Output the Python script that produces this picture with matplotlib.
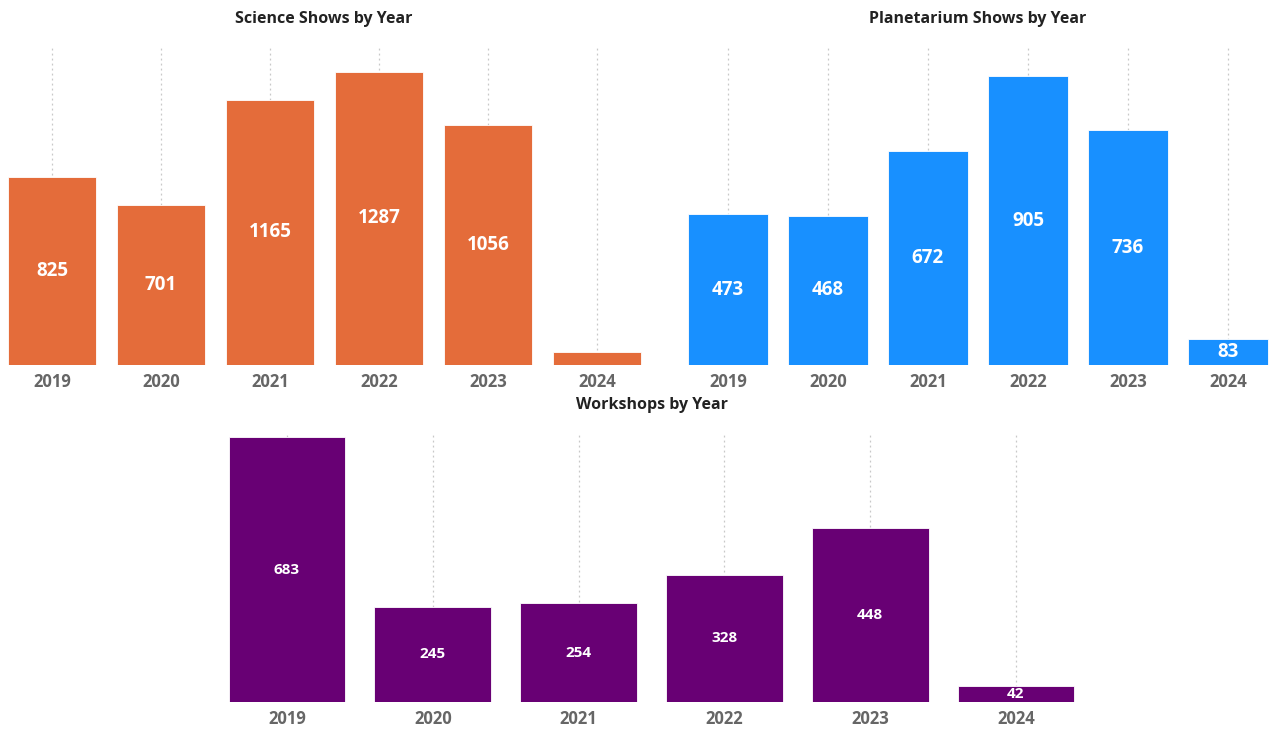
import matplotlib.pyplot as plt

plt.rcParams['font.family'] = ['Open Sans', 'DejaVu Sans']

# data
years = ['2019', '2020', '2021', '2022', '2023', '2024']
science_shows = [825, 701, 1165, 1287, 1056, 57]
planetarium_shows = [473, 468, 672, 905, 736, 83]
workshops = [683, 245, 254, 328, 448, 42]

W, H = 1272, 729
fig = plt.figure(figsize=(W / 100, H / 100), dpi=100)


def px_axes(left, top, right, bottom):
    return fig.add_axes([left / W, 1 - bottom / H, (right - left) / W, (bottom - top) / H])


def draw_bars(ax, values, color, ymax, xlim, label_size, width=0.8):
    x = range(len(years))
    for i in x:
        ax.axvline(i, color='#c8c8c8', linestyle=(0, (1.5, 2.5)), linewidth=0.9, zorder=0)
    ax.bar(x, values, width=width, color=color, edgecolor='#ffffff', linewidth=0.6, zorder=2)
    for i, v in enumerate(values):
        if v / ymax > 0.05:
            ax.text(i, v / 2, str(v), ha='center', va='center', color='white',
                    fontsize=label_size, fontweight='bold', zorder=3)
    ax.set_xlim(*xlim)
    ax.set_ylim(0, ymax)
    ax.set_xticks(list(x))
    ax.set_xticklabels(years, fontsize=12, fontweight='bold', color='#666666')
    ax.tick_params(axis='x', length=0, pad=6)
    ax.set_yticks([])
    for s in ax.spines.values():
        s.set_visible(False)


# Science shows
ax1 = px_axes(52 - 0.42 * 109, 48, 597 + 0.42 * 109, 365)
draw_bars(ax1, science_shows, '#E46C3A', 1392, (-0.42, 5.42), 13.5)
fig.text(324 / W, 1 - 19 / H, 'Science Shows by Year', ha='center', va='center',
         fontsize=11.5, fontweight='bold', color='#222222')

# Planetarium shows
ax2 = px_axes(728 - 0.42 * 100, 48, 1228 + 0.42 * 100, 365)
draw_bars(ax2, planetarium_shows, '#1890FF', 994, (-0.42, 5.42), 13.5)
fig.text(978 / W, 1 - 19 / H, 'Planetarium Shows by Year', ha='center', va='center',
         fontsize=11.5, fontweight='bold', color='#222222')

# Workshops
ax3 = px_axes(287 - 0.5 * 145.8, 432, 1016 + 0.5 * 145.8, 702)
draw_bars(ax3, workshops, '#680074', 696, (-0.5, 5.5), 11)
fig.text(652 / W, 1 - 405 / H, 'Workshops by Year', ha='center', va='center',
         fontsize=11.5, fontweight='bold', color='#222222')

plt.savefig('out.png', dpi=100)
plt.close()
